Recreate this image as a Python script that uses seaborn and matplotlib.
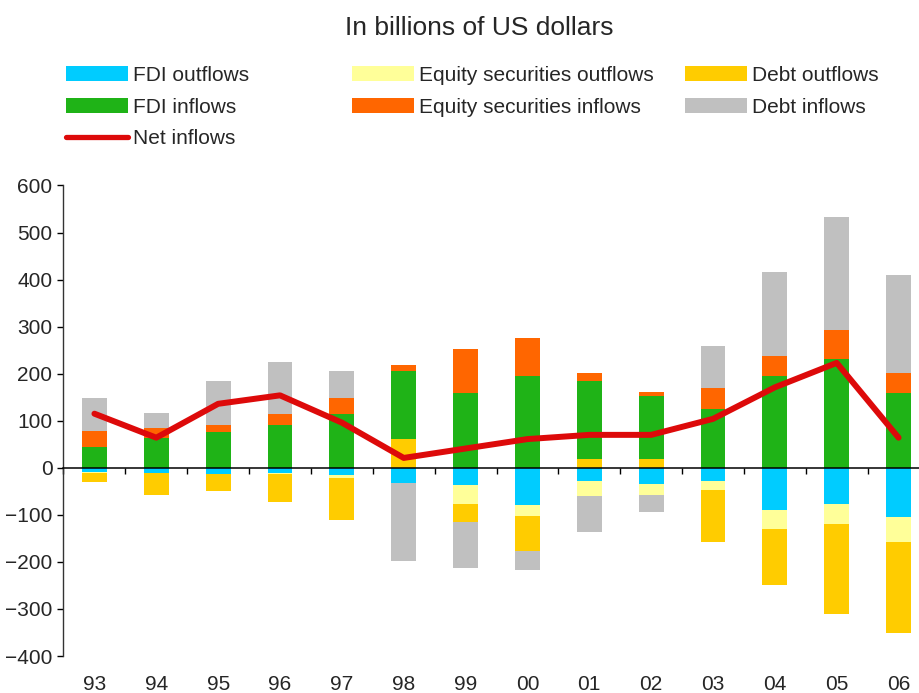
import numpy as np
import pandas as pd
import matplotlib
matplotlib.use("Agg")
import matplotlib.pyplot as plt
import matplotlib.transforms as mtransforms
from matplotlib.patches import Patch
from matplotlib.lines import Line2D
import seaborn as sns

years = ["93", "94", "95", "96", "97", "98", "99", "00", "01", "02", "03", "04", "05", "06"]
fdi_out = [-8, -10, -13, -10, -16, -32, -36, -79, -28, -34, -28, -90, -77, -105]
eq_out = [-2, 0, 0, -4, -5, 0, -41, -24, -32, -24, -19, -40, -43, -53]
debt_out = [-21, -47, -36, -58, -90, 62, -38, -74, 19, 19, -111, -120, -190, -194]
fdi_in = [45, 63, 77, 90, 115, 143, 158, 196, 165, 133, 124, 196, 231, 158]
eq_in = [34, 22, 15, 25, 34, 13, 94, 79, 17, 10, 45, 41, 62, 43]
debt_in = [70, 32, 92, 109, 56, -167, -98, -41, -76, -35, 89, 179, 239, 209]
net_in = [115, 64, 136, 154, 96, 21, 41, 61, 70, 70, 104, 171, 223, 64]

labels = ["FDI outflows", "Equity securities outflows", "Debt outflows",
          "FDI inflows", "Equity securities inflows", "Debt inflows", "Net inflows"]
colors = ["#00CCFF", "#FFFF99", "#FFCC00", "#1FB317", "#FF6600", "#C0C0C0", "#DD0A0A"]

sns.set_style("ticks")
plt.rcParams["font.family"] = ["Liberation Sans", "DejaVu Sans"]
FS = 15

fig = plt.figure(figsize=(9.2, 6.93), dpi=100)
ax = fig.add_axes([63.5 / 920, 37 / 693, 866 / 920, 470.5 / 693])

n = len(years)
pos_base = np.zeros(n)
neg_base = np.zeros(n)
for vals, col in zip([fdi_out, eq_out, debt_out, fdi_in, eq_in, debt_in], colors[:6]):
    v = np.array(vals, dtype=float)
    bottom = np.where(v >= 0, pos_base, neg_base)
    df = pd.DataFrame({"year": years, "value": v})
    sns.barplot(data=df, x="year", y="value", bottom=bottom, color=col,
                saturation=1, width=0.4, errorbar=None, linewidth=0, ax=ax)
    pos_base += np.where(v > 0, v, 0)
    neg_base += np.where(v < 0, v, 0)

sns.lineplot(x=np.arange(n), y=net_in, color=colors[6], linewidth=4.3, ax=ax)

ax.set_xlim(-0.5, n - 0.5)
ax.set_ylim(-400, 600)
ax.set_yticks(np.arange(-400, 601, 100))
ax.set_xticks(np.arange(-0.5, n, 1))
ax.set_xticklabels([])
ax.set_xlabel("")
ax.set_ylabel("")
ax.spines["top"].set_visible(False)
ax.spines["right"].set_visible(False)
ax.spines["bottom"].set_position(("data", 0))
ax.spines["bottom"].set_color("black")
ax.spines["bottom"].set_linewidth(1.1)
ax.spines["left"].set_color("#333333")
ax.spines["left"].set_linewidth(1.0)
ax.tick_params(axis="both", direction="out", length=4.5, width=1, color="black",
               labelsize=FS, pad=3.5)

trans = mtransforms.blended_transform_factory(ax.transData, ax.transAxes)
for i, y in enumerate(years):
    ax.text(i, -28 / 470.5, y, transform=trans, ha="center", va="center", fontsize=FS)

fig.text(479 / 920, 1 - 28 / 693, "In billions of US dollars", ha="center", va="center", fontsize=19)

def patch(c):
    return Patch(facecolor=c, edgecolor="none")

leg_kw = dict(loc="upper left", frameon=False, borderpad=0, borderaxespad=0,
              handlelength=2.98, handleheight=0.72, handletextpad=0.25,
              labelspacing=0.61, fontsize=FS)
top = 1 - 66 / 693
fig.legend([patch(colors[0]), patch(colors[3]),
            Line2D([0], [0], color=colors[6], lw=3.8)],
           [labels[0], labels[3], labels[6]], bbox_to_anchor=(66 / 920, top), **leg_kw)
fig.legend([patch(colors[1]), patch(colors[4])], [labels[1], labels[4]],
           bbox_to_anchor=(352 / 920, top), **leg_kw)
fig.legend([patch(colors[2]), patch(colors[5])], [labels[2], labels[5]],
           bbox_to_anchor=(685 / 920, top), **leg_kw)

fig.savefig("out.png", dpi=100)
